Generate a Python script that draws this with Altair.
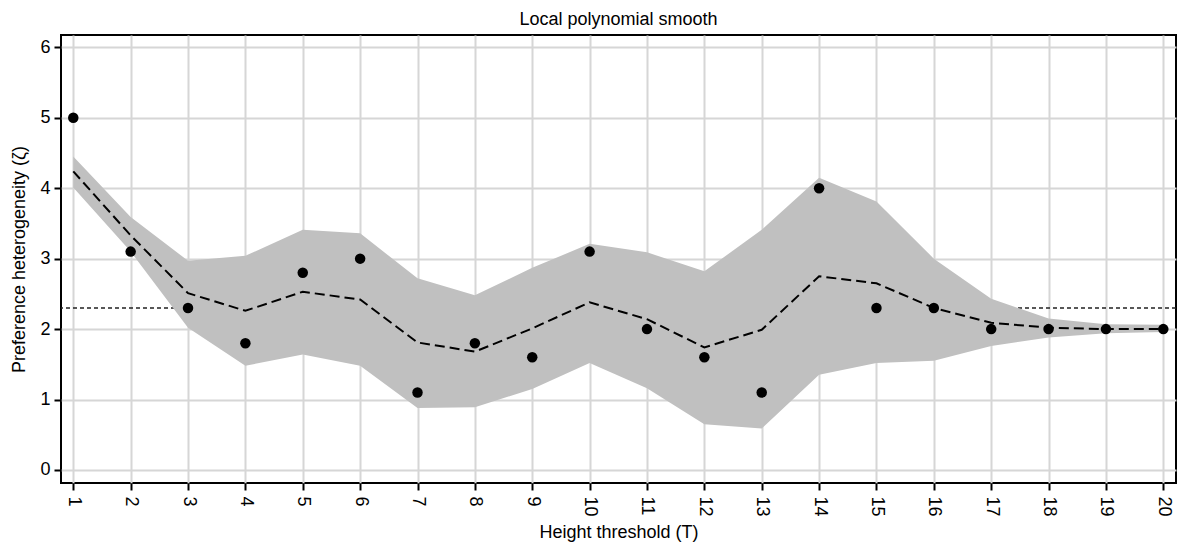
import altair as alt
import pandas as pd

# Height threshold values (T)
threshold = list(range(1, 21))
# Observed preference heterogeneity at each threshold
observed = [5.0, 3.1, 2.3, 1.8, 2.8, 3.0, 1.1, 1.8, 1.6, 3.1,
            2.0, 1.6, 1.1, 4.0, 2.3, 2.3, 2.0, 2.0, 2.0, 2.0]
# Local polynomial fit and its confidence band
smooth = [4.24, 3.33, 2.51, 2.26, 2.53, 2.42, 1.81, 1.68, 2.01, 2.38,
          2.14, 1.74, 1.99, 2.75, 2.65, 2.30, 2.09, 2.02, 2.00, 2.00]
ci_upper = [4.45, 3.59, 2.97, 3.04, 3.41, 3.36, 2.72, 2.48, 2.87, 3.21,
            3.09, 2.82, 3.41, 4.15, 3.81, 3.00, 2.43, 2.15, 2.07, 2.06]
ci_lower = [4.01, 3.10, 2.02, 1.48, 1.64, 1.48, 0.88, 0.89, 1.15, 1.52,
            1.16, 0.65, 0.59, 1.35, 1.52, 1.55, 1.76, 1.88, 1.94, 1.96]
reference_level = [2.3]
y_ticks = [0, 1, 2, 3, 4, 5, 6]

df = pd.DataFrame({
    "T": threshold,
    "zeta": observed,
    "fit": smooth,
    "hi": ci_upper,
    "lo": ci_lower,
})
ref_df = pd.DataFrame({"level": reference_level})

FONT = "Liberation Sans"

x_scale = alt.Scale(domain=[0.786, 20.221], nice=False, zero=False)
y_scale = alt.Scale(domain=[-0.185, 6.175], nice=False, zero=False)

x_enc = alt.X(
    "T:Q",
    scale=x_scale,
    axis=alt.Axis(
        title="Height threshold (T)",
        values=threshold,
        format="d",
        labelAngle=90,
        labelAlign="left",
        labelBaseline="middle",
        labelPadding=6,
        titlePadding=7,
    ),
)

y_axis = alt.Axis(
    title="Preference heterogeneity (ζ)",
    values=y_ticks,
    format="d",
    labelPadding=4,
    titlePadding=11,
)

# Dotted reference level across the full width, drawn first so the band covers it
ref_line = alt.Chart(ref_df).mark_rule(
    color="#222222", strokeWidth=1.4, strokeDash=[4, 3]
).encode(y=alt.Y("level:Q", scale=y_scale, axis=y_axis))

band = alt.Chart(df).mark_area(color="#c0c0c0", opacity=1).encode(
    x=x_enc,
    y=alt.Y("lo:Q", scale=y_scale, axis=y_axis),
    y2="hi:Q",
)

fit_line = alt.Chart(df).mark_line(
    color="black", strokeWidth=2, strokeDash=[10, 5]
).encode(x="T:Q", y="fit:Q")

points = alt.Chart(df).mark_circle(color="black", opacity=1, size=110).encode(
    x="T:Q", y="zeta:Q"
)

chart = (
    alt.layer(ref_line, band, fit_line, points)
    .properties(
        width=1115,
        height=448,
        title=alt.TitleParams(
            "Local polynomial smooth",
            font=FONT,
            fontSize=18,
            fontWeight="normal",
            color="black",
            offset=6,
        ),
        autosize=alt.AutoSizeParams(type="none"),
        padding={"left": 61, "top": 35, "right": 2, "bottom": 62},
    )
    .configure_view(stroke="black", strokeWidth=2)
    .configure_axis(
        domain=False,
        grid=True,
        gridColor="#d6d6d6",
        gridWidth=2,
        tickColor="black",
        tickWidth=2,
        tickSize=7,
        labelFont=FONT,
        labelFontSize=18,
        labelColor="black",
        titleFont=FONT,
        titleFontSize=18,
        titleFontWeight="normal",
        titleColor="black",
    )
)

chart.save("out.html", embed_options={"renderer": "svg", "actions": False})
